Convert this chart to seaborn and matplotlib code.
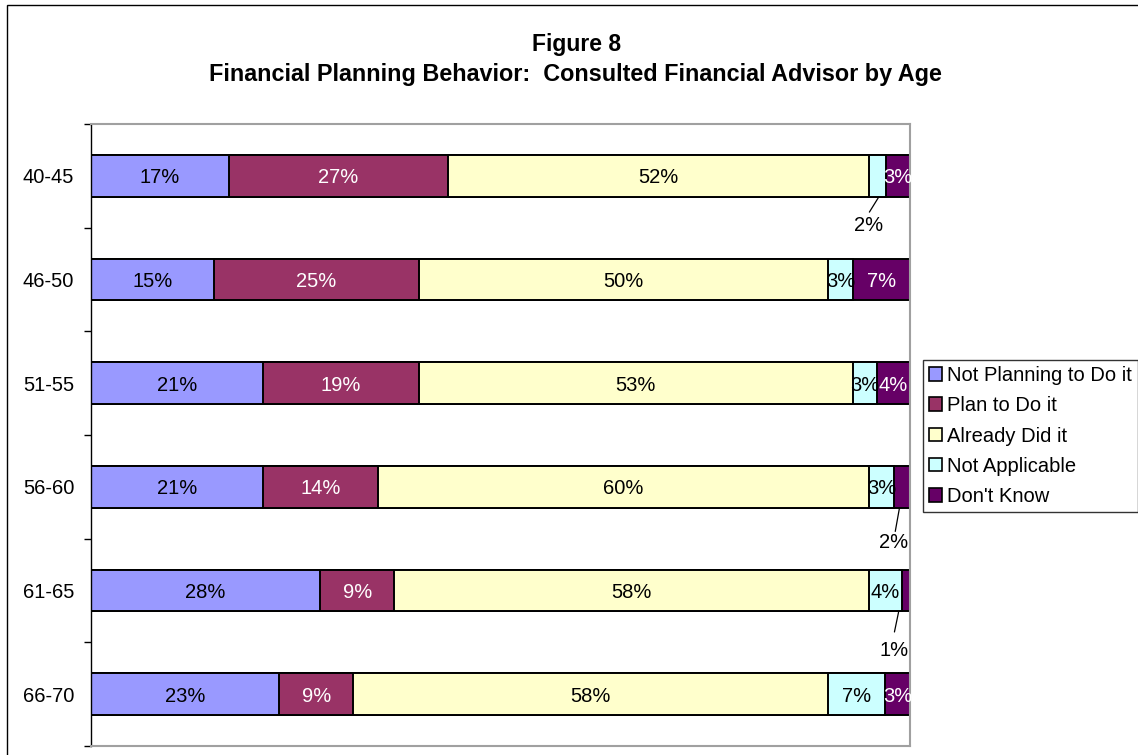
import numpy as np
import pandas as pd
import matplotlib
matplotlib.use("Agg")
import matplotlib.pyplot as plt
import seaborn as sns
from matplotlib.patches import Patch, Rectangle

# Werte aus der Abbildung (Prozent je Altersgruppe)
age_groups = ["40-45", "46-50", "51-55", "56-60", "61-65", "66-70"]
responses = ["Not Planning to Do it", "Plan to Do it", "Already Did it",
             "Not Applicable", "Don't Know"]
not_planning = [17, 15, 21, 21, 28, 23]
plan_to_do = [27, 25, 19, 14, 9, 9]
already_did = [52, 50, 53, 60, 58, 58]
not_applicable = [2, 3, 3, 3, 4, 7]
dont_know = [3, 7, 4, 2, 1, 3]

colors = ["#9999FF", "#993366", "#FFFFCC", "#CCFFFF", "#660066"]
text_colors = ["black", "white", "black", "black", "white"]

# kleine Segmente mit Beschriftung unterhalb (Zeile, Spalte) -> Versatz
callouts = {
    (0, 3): dict(tx=-1.1, ty=0.46, lx0=0.1, lx1=-1.0, ly1=0.35),
    (3, 4): dict(tx=-1.0, ty=0.52, lx0=-0.3, lx1=-0.8, ly1=0.43),
    (4, 4): dict(tx=-1.4, ty=0.56, lx0=-0.9, lx1=-1.4, ly1=0.40),
}

vals = np.array([not_planning, plan_to_do, already_did, not_applicable, dont_know],
                dtype=float).T
shares = vals / vals.sum(axis=1, keepdims=True) * 100
cum = np.cumsum(shares, axis=1)

sns.set_style("white")
plt.rcParams["font.family"] = ["Liberation Sans", "DejaVu Sans"]
plt.rcParams["text.color"] = "black"
plt.rcParams["xtick.color"] = "black"
plt.rcParams["ytick.color"] = "black"
plt.rcParams["axes.labelcolor"] = "black"

fig = plt.figure(figsize=(11.38, 7.55), dpi=100)
ax = fig.add_axes([91 / 1138, 9 / 755, 819 / 1138, 622 / 755])

# gestapelte Balken: kumulierte Summen, von hinten nach vorne
for i in reversed(range(len(responses))):
    df = pd.DataFrame({"age": age_groups, "cum": cum[:, i]})
    sns.barplot(data=df, x="cum", y="age", orient="h", color=colors[i],
                saturation=1, width=0.4, edgecolor="black", linewidth=1.4, ax=ax)

# Beschriftungen
fs = 14.5
for r in range(len(age_groups)):
    for c in range(len(responses)):
        left = cum[r, c] - shares[r, c]
        mid = left + shares[r, c] / 2
        label = f"{int(vals[r, c])}%"
        if (r, c) in callouts:
            co = callouts[(r, c)]
            ax.plot([mid + co["lx0"], mid + co["lx1"]], [r + 0.21, r + co["ly1"]],
                    color="black", lw=0.9, clip_on=False)
            ax.text(mid + co["tx"], r + co["ty"], label, ha="center",
                    va="center_baseline", fontsize=fs, color="black")
        else:
            ax.text(mid, r, label, ha="center", va="center_baseline", fontsize=fs,
                    color=text_colors[c])

ax.set_xlim(0, 100)
ax.set_ylim(5.5, -0.5)
ax.set_xlabel("")
ax.set_ylabel("")
ax.set_xticks([])
ax.set_yticks(range(len(age_groups)))
ax.set_yticklabels(age_groups, fontsize=fs, va="center_baseline")
ax.set_yticks(np.arange(-0.5, len(age_groups)), minor=True)
ax.tick_params(axis="y", which="major", length=0, pad=12)
ax.tick_params(axis="y", which="minor", length=5, width=1, color="black",
               direction="out", left=True)

for side in ["top", "right", "bottom"]:
    ax.spines[side].set_color("#a0a0a0")
    ax.spines[side].set_linewidth(1.5)
ax.spines["left"].set_color("black")
ax.spines["left"].set_linewidth(1)

# Titel
fig.text(0.507, 1 - 45 / 755, "Figure 8", ha="center", va="center",
         fontsize=16.5, fontweight="bold")
fig.text(0.506, 1 - 75 / 755,
         "Financial Planning Behavior:  Consulted Financial Advisor by Age",
         ha="center", va="center", fontsize=16.8, fontweight="bold")

# Legende
handles = [Patch(facecolor=colors[i], edgecolor="black", linewidth=1.2)
           for i in range(len(responses))]
leg = fig.legend(handles, responses, loc="center left",
                 bbox_to_anchor=(923 / 1138, 1 - 436 / 755), frameon=True,
                 fancybox=False, edgecolor="black", fontsize=fs,
                 handlelength=0.65, handleheight=0.65, handletextpad=0.25,
                 borderpad=0.3, borderaxespad=0, labelspacing=0.56)
leg.get_frame().set_linewidth(1)

# Rahmen um die Grafik
fig.add_artist(Rectangle((7 / 1138, -0.05), 1.2, (750 / 755) + 0.05,
                         transform=fig.transFigure, fill=False,
                         edgecolor="black", linewidth=1))

fig.savefig("out.png", dpi=100)
